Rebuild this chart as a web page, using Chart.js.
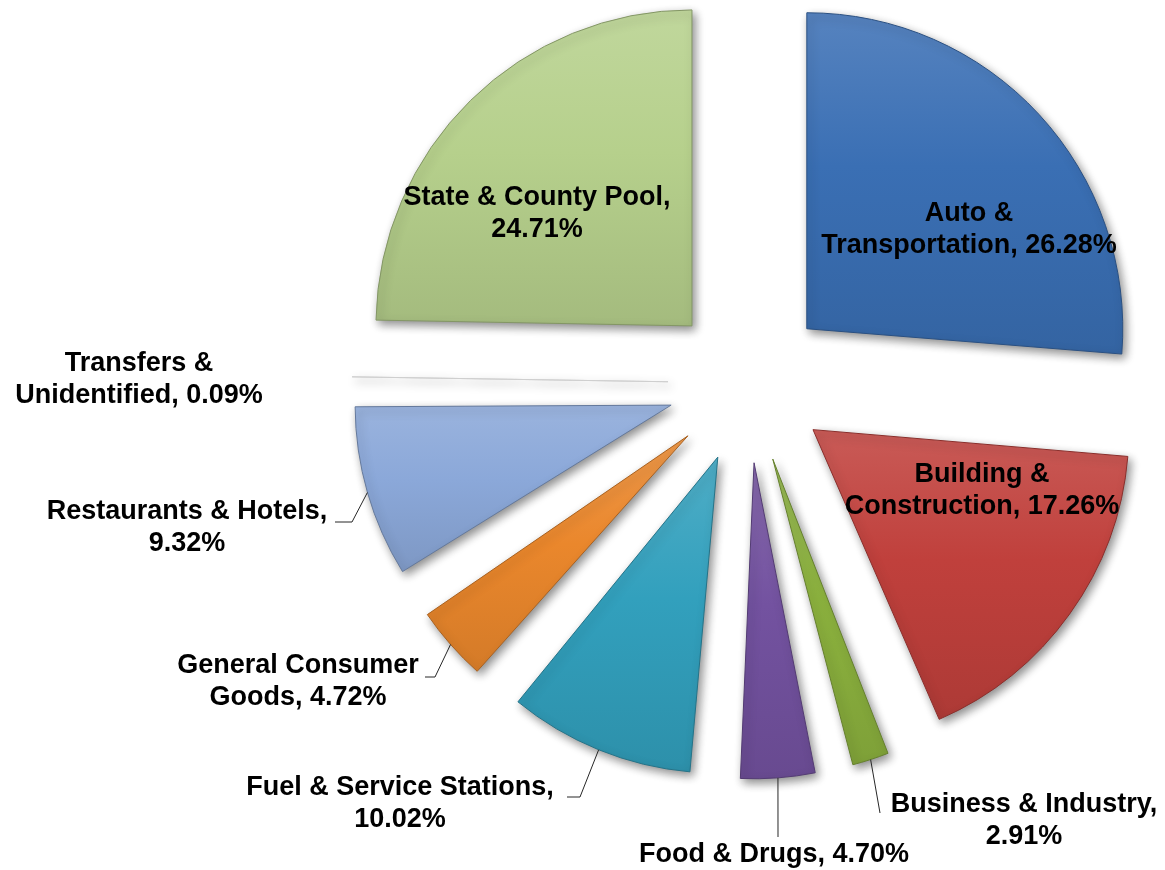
<!DOCTYPE html>
<html>
<head>
<meta charset="utf-8">
<script src="https://cdn.jsdelivr.net/npm/chart.js@4.4.1/dist/chart.umd.min.js"></script>
<style>
  html, body { margin: 0; padding: 0; background: #fff; }
  #wrap { width: 1165px; height: 870px; position: relative; }
</style>
</head>
<body>
<div id="wrap"><canvas id="salesPie"></canvas></div>
<script>
// sales tax by business group, clockwise from 12 o'clock
const categories = [
  'Auto & Transportation',
  'Building & Construction',
  'Business & Industry',
  'Food & Drugs',
  'Fuel & Service Stations',
  'General Consumer Goods',
  'Restaurants & Hotels',
  'Transfers & Unidentified',
  'State & County Pool'
];
const shares = [26.28, 17.26, 2.91, 4.70, 10.02, 4.72, 9.32, 0.09, 24.71];
const sliceColors = ['#3a6fb4', '#c0403c', '#8cb23e', '#7352a0', '#32a0bd', '#ea872c', '#8ba8d9', '#d8d8d8', '#b6d08c'];

// label placement: centre of first line, words on first line, leader bend points
const labelLayout = [
  { x: 969, y: 214, firstLine: 2 },
  { x: 982, y: 475, firstLine: 2 },
  { x: 1024, y: 805, firstLine: 3, leader: [[880, 813]] },
  { x: 774, y: 855, firstLine: 0, leader: [[778, 837]] },
  { x: 400, y: 788, firstLine: 4, leader: [[580, 797], [567, 797]] },
  { x: 298, y: 666, firstLine: 2, leader: [[435, 677], [425, 677]] },
  { x: 187, y: 512, firstLine: 3, leader: [[352, 522], [335, 522]] },
  { x: 139, y: 364, firstLine: 2 },
  { x: 537, y: 198, firstLine: 4 }
];

const FONT = 'bold 27px "Liberation Sans", Arial, sans-serif';
const LINE_H = 32;

function shade(hex, t) {
  // t > 0 lighten towards white, t < 0 darken towards black
  const n = parseInt(hex.slice(1), 16);
  let r = n >> 16, g = (n >> 8) & 255, b = n & 255;
  const target = t > 0 ? 255 : 0, k = Math.abs(t);
  r = Math.round(r + (target - r) * k);
  g = Math.round(g + (target - g) * k);
  b = Math.round(b + (target - b) * k);
  return `rgb(${r},${g},${b})`;
}

// vertical extent of a slice (relative to pie centre) so each slice gets its own gradient
function sliceExtent(i, R) {
  const total = shares.reduce((a, b) => a + b, 0);
  let before = 0;
  for (let k = 0; k < i; k++) before += shares[k];
  const a0 = -Math.PI / 2 + 2 * Math.PI * before / total;
  const a1 = a0 + 2 * Math.PI * shares[i] / total;
  const ys = [0, R * Math.sin(a0), R * Math.sin(a1)];
  [Math.PI / 2, -Math.PI / 2, 1.5 * Math.PI].forEach(a => {
    if (a > a0 && a < a1) ys.push(R * Math.sin(a));
  });
  return [Math.min(...ys), Math.max(...ys)];
}

const PIE_R = 316;

function sliceFill(ctx) {
  const chart = ctx.chart;
  const area = chart.chartArea;
  const base = sliceColors[ctx.dataIndex];
  if (!area) return base;
  const cy = (area.top + area.bottom) / 2;
  const [y0, y1] = sliceExtent(ctx.dataIndex, PIE_R);
  const g = chart.ctx.createLinearGradient(0, cy + y0, 0, cy + y1);
  g.addColorStop(0, shade(base, 0.14));
  g.addColorStop(0.45, base);
  g.addColorStop(1, shade(base, -0.1));
  return g;
}

// keep exploded slices at the same radius, and add a soft shadow
const flatExplode = {
  id: 'flatExplode',
  beforeDatasetDraw(chart) {
    const meta = chart.getDatasetMeta(0);
    const R = meta.controller.outerRadius;
    meta.data.forEach(arc => {
      const off = (arc.options.offset || 0) / 4;
      const fix = 1 - Math.sin(Math.min(Math.PI, arc.circumference));
      arc.outerRadius = R - off * fix;
    });
    const c = chart.ctx;
    c.save();
    c.shadowColor = 'rgba(0,0,0,0.45)';
    c.shadowBlur = 10;
    c.shadowOffsetX = 3;
    c.shadowOffsetY = 4;
  },
  afterDatasetDraw(chart) {
    chart.ctx.restore();
  }
};

const sliceLabels = {
  id: 'sliceLabels',
  afterDraw(chart) {
    const c = chart.ctx;
    const meta = chart.getDatasetMeta(0);
    c.save();
    c.font = FONT;
    c.fillStyle = '#000';
    c.textAlign = 'center';
    c.textBaseline = 'middle';
    c.strokeStyle = '#262626';
    c.lineWidth = 1;
    meta.data.forEach((arc, i) => {
      const lay = labelLayout[i];
      const text = `${categories[i]}, ${shares[i].toFixed(2)}%`;
      const words = text.split(' ');
      const lines = lay.firstLine > 0
        ? [words.slice(0, lay.firstLine).join(' '), words.slice(lay.firstLine).join(' ')]
        : [text];
      lines.forEach((ln, k) => c.fillText(ln, lay.x, lay.y + k * LINE_H));
      if (lay.leader) {
        const mid = (arc.startAngle + arc.endAngle) / 2;
        const off = (arc.options.offset || 0) / 4;
        const r = meta.controller.outerRadius + off;
        c.beginPath();
        c.moveTo(arc.x + Math.cos(mid) * r, arc.y + Math.sin(mid) * r);
        lay.leader.forEach(p => c.lineTo(p[0], p[1]));
        c.stroke();
      }
    });
    c.restore();
  }
};

const pieData = {
  labels: categories,
  datasets: [{
    data: shares,
    backgroundColor: sliceFill,
    borderColor: ctx => shade(sliceColors[ctx.dataIndex], shares[ctx.dataIndex] < 1 ? -0.04 : -0.28),
    borderWidth: 1,
    offset: 320
  }]
};

const pieConfig = {
  type: 'pie',
  data: pieData,
  options: {
    responsive: true,
    maintainAspectRatio: false,
    animation: false,
    events: [],
    radius: PIE_R,
    layout: { padding: { left: 331, right: 0, top: 0, bottom: 104 } },
    plugins: {
      legend: { display: false },
      tooltip: { enabled: false }
    }
  },
  plugins: [flatExplode, sliceLabels]
};

const salesPie = new Chart(document.getElementById('salesPie'), pieConfig);
</script>
</body>
</html>
